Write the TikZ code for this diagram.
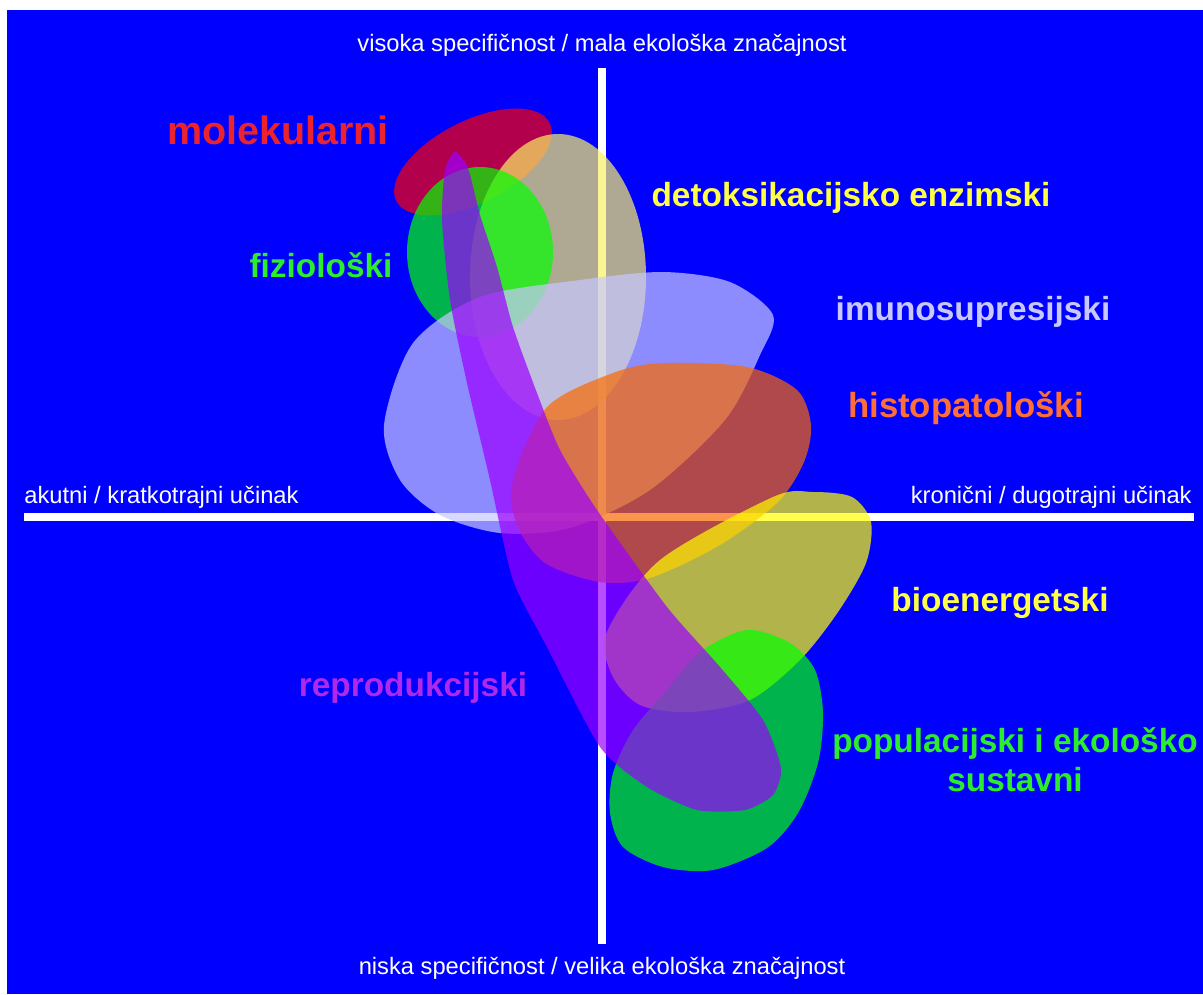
\documentclass[tikz,border=0pt]{standalone}
\usepackage{fontspec}
\setmainfont{Liberation Sans}
\usepackage{tikz}
\usetikzlibrary{positioning}
\definecolor{bgblue}{RGB}{0,0,255}
\definecolor{molred}{RGB}{255,0,0}
\definecolor{detoxyel}{RGB}{250,240,100}
\definecolor{fizgreen}{RGB}{0,255,0}
\definecolor{imulav}{RGB}{200,200,255}
\definecolor{historange}{RGB}{250,105,0}
\definecolor{bioyel}{RGB}{255,255,0}
\definecolor{reprviolet}{RGB}{155,0,255}
\definecolor{lblred}{RGB}{235,35,45}
\definecolor{lblgreen}{RGB}{45,235,45}
\definecolor{lblyel}{RGB}{255,255,70}
\definecolor{lblhist}{RGB}{255,110,55}
\definecolor{lblrepr}{RGB}{175,40,235}
\tikzset{
  axisline/.style={line width=4pt,white},
  blob/.style={fill opacity=0.7,draw=none},
  axislabel/.style={text=white,font=\fontsize{13.5}{16}\selectfont,inner sep=0pt},
  grouplabel/.style={font=\bfseries\fontsize{19}{22}\selectfont,align=center,inner sep=0pt}
}

\begin{document}
\begin{tikzpicture}[x=0.02cm,y=-0.02cm]
  \useasboundingbox (0,0) rectangle (1203,994);
  \fill[bgblue] (7,10) rectangle (1203,994);
  % axes
  \coordinate (top) at (602,68);
  \coordinate (bottom) at (602,944);
  \coordinate (left) at (24,517);
  \coordinate (right) at (1194,517);
  \draw[axisline] (top) -- (bottom);
  \draw[axisline] (left) -- (right);
  \node[axislabel] (spechigh) at (602,45) {visoka specifičnost / mala ekološka značajnost};
  \node[axislabel] (speclow) at (602,968) {niska specifičnost / velika ekološka značajnost};
  \node[axislabel,anchor=west] (acute) at (24,497) {akutni / kratkotrajni učinak};
  \node[axislabel,anchor=east] (chronic) at (1192,497) {kronični / dugotrajni učinak};
  % blobs, back to front
  \fill[blob,molred,rotate around={27:(473,162)}] (473,162) ellipse[x radius=86,y radius=41];
  \fill[blob,detoxyel] (558,277) ellipse[x radius=88,y radius=143];
  \fill[blob,fizgreen] (480,252) ellipse[x radius=73,y radius=85];
  \fill[blob,imulav] plot[smooth cycle] coordinates {
    (384,425) (413,343) (480,297) (580,280) (663,272) (730,282) (773,315)
    (760,355) (725,420) (650,490) (570,528) (500,533) (440,515) (400,480)};
  \fill[blob,historange] plot[smooth cycle] coordinates {
    (513,480) (547,407) (613,373) (663,363) (747,367) (797,390) (811,425)
    (804,462) (778,502) (720,545) (650,578) (600,582) (545,563) (517,525)};
  \fill[blob,bioyel] plot[smooth cycle] coordinates {
    (607,632) (660,560) (773,497) (813,492) (852,497) (871,522) (866,563)
    (838,612) (800,660) (750,700) (690,712) (640,705) (612,675)};
  \fill[blob,fizgreen] plot[smooth cycle] coordinates {
    (747,630) (790,643) (815,670) (823,713) (818,763) (798,813) (767,848)
    (713,870) (663,867) (623,847) (610,813) (613,773) (633,730) (667,690)
    (700,652)};
  \fill[blob,reprviolet] plot[smooth cycle,tension=0.4] coordinates {
    (455,152) (468,168) (480,215) (497,267) (513,327) (537,393) (560,450)
    (597,510) (667,607) (720,667) (763,720) (781,768) (773,795) (745,810)
    (697,810) (647,787) (600,747) (547,647) (513,580) (490,480) (467,383)
    (450,300) (442,220) (445,170)};
  % group labels
  \node[grouplabel,text=lblred,font=\bfseries\fontsize{22.5}{26}\selectfont] (mol) at (278,130) {molekularni};
  \node[grouplabel,text=lblyel] (detox) at (851,198) {detoksikacijsko enzimski};
  \node[grouplabel,text=lblgreen] (fiz) at (321,265) {fiziološki};
  \node[grouplabel,text=imulav] (imu) at (973,312) {imunosupresijski};
  \node[grouplabel,text=lblhist,font=\bfseries\fontsize{19.8}{23}\selectfont] (hist) at (966,408) {histopatološki};
  \node[grouplabel,text=lblyel] (bio) at (1000,603) {bioenergetski};
  \node[grouplabel,text=lblrepr] (repr) at (413,688) {reprodukcijski};
  \node[grouplabel,text=lblgreen] (pop) at (1015,760) {populacijski i ekološko\\sustavni};
\end{tikzpicture}
\end{document}
